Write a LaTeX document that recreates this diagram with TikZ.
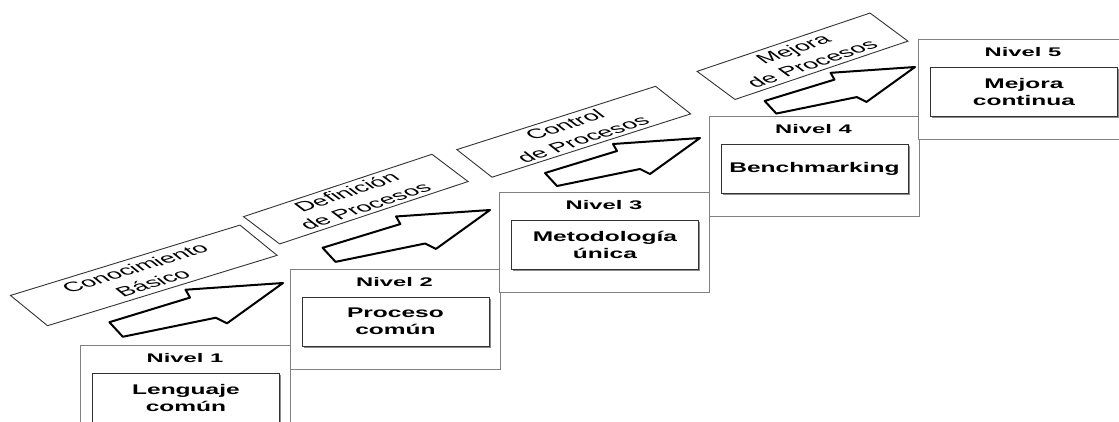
\documentclass[tikz,border=0pt]{standalone}
\usepackage{fontspec}
\setmainfont{Liberation Sans}
\newfontfamily\titlefont[FakeStretch=1.9]{Liberation Sans}
\newfontfamily\innerfont[FakeStretch=1.75]{Liberation Sans}
\usetikzlibrary{shadows}
\begin{document}
\begin{tikzpicture}[x=1pt,y=-1pt,
  outerbox/.style={draw=black!50, line width=1.3pt, fill=white, anchor=north west, inner sep=0pt},
  innerbox/.style={draw=black!80, line width=0.9pt, fill=white, anchor=north west, inner sep=0pt,
    minimum width=187pt, minimum height=49pt, align=center,
    font=\innerfont\bfseries\fontsize{14}{16.5}\selectfont,
    drop shadow={shadow xshift=1.6pt, shadow yshift=-1.6pt, fill=black!45, opacity=1}},
  titletext/.style={font=\titlefont\bfseries\fontsize{12.5}{14}\selectfont, inner sep=0pt},
  lblbox/.style={draw=black!80, line width=0.9pt, fill=white, transform shape, align=center,
    font=\fontsize{13.5}{17}\selectfont, inner sep=0pt},
  arr/.style={draw=black, line width=2pt, fill=white, line join=round},
  blockarr/.pic={\path[arr] (-155,35) -- (-83,13) -- (-87,6) -- (0,0) -- (-50,36) -- (-60,31) -- (-143,48) -- cycle;}
]
\useasboundingbox (0,0) rectangle (1119,421);
\clip (0,0) rectangle (1119,421);

% step boxes
\foreach \i/\t in {1/{Lenguaje\\común}, 2/{Proceso\\común}, 3/{Metodología\\única}, 4/{Benchmarking}, 5/{Mejora\\continua}} {
  \pgfmathsetmacro{\xo}{80+209.5*(\i-1)}
  \pgfmathsetmacro{\yo}{345-76.5*(\i-1)}
  \node[outerbox, minimum width=210pt, minimum height=100pt] (o\i) at (\xo,\yo) {};
  \node[titletext] (t\i) at (\xo+105,\yo+13.5) {Nivel \i};
  \node[innerbox] (in\i) at (\xo+12,\yo+28) {\t};
}

% label boxes
\begin{scope}[shift={(143.75,275.4)}, xscale=2, rotate=31.5]
  \node[lblbox, minimum width=134.6pt, minimum height=35.5pt] (l1) at (0,0) {Conocimiento\\Básico};
\end{scope}
\begin{scope}[shift={(355.8,199.1)}, xscale=2, rotate=33.5]
  \node[lblbox, minimum width=113pt, minimum height=32.7pt] (l2) at (0,0) {Definición\\de Procesos};
\end{scope}
\begin{scope}[shift={(573.75,131.75)}, xscale=2, rotate=32.5]
  \node[lblbox, minimum width=117.8pt, minimum height=32.7pt] (l3) at (0,0) {Control\\de Procesos};
\end{scope}
\begin{scope}[shift={(802.5,56.25)}, xscale=2, rotate=34]
  \node[lblbox, minimum width=104.3pt, minimum height=33.9pt] (l4) at (0,0) {Mejora\\de Procesos};
\end{scope}

% block arrows
\pic[scale=1.12] (a1) at (283,283) {blockarr};
\pic[scale=1.08] (a2) at (490,210) {blockarr};
\pic[scale=1.0] (a3) at (700,138) {blockarr};
\pic[scale=0.97] (a4) at (915,67) {blockarr};
\end{tikzpicture}
\end{document}
